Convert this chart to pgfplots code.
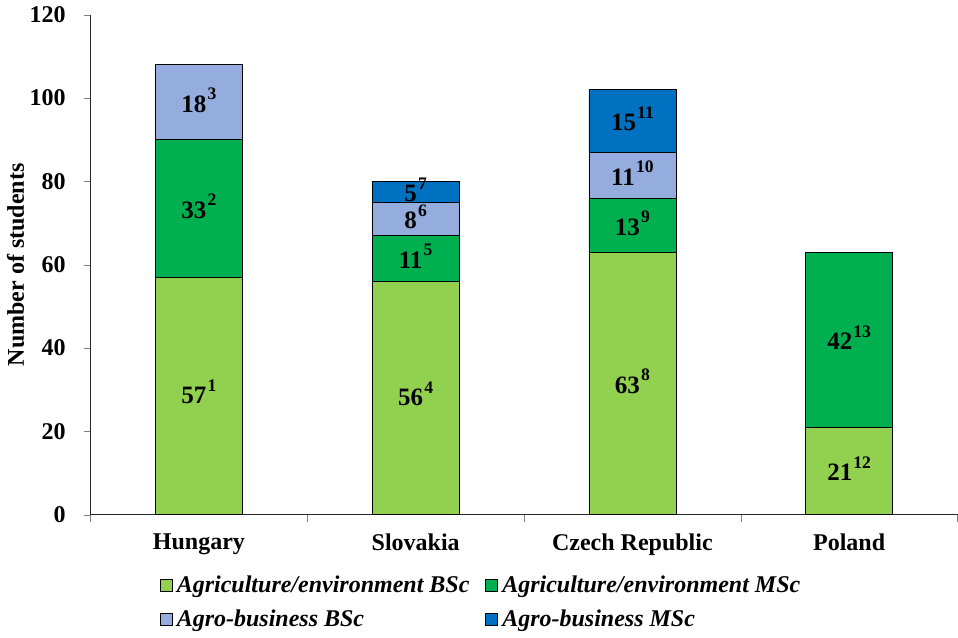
\documentclass[border=0pt]{standalone}
\usepackage{pgfplots}
\pgfplotsset{compat=1.18}
\usepackage{fontspec}
\setmainfont{Liberation Serif}
\definecolor{lgreen}{RGB}{146,208,80}
\definecolor{dgreen}{RGB}{0,176,80}
\definecolor{lblue}{RGB}{149,173,222}
\definecolor{dblue}{RGB}{0,112,192}
\newcommand\sups[1]{\kern0.6pt\raisebox{0.5em}{\fontsize{8.8}{9}\selectfont #1}}
\begin{document}
\begin{tikzpicture}
\pgfplotsset{common/.style={scale only axis, width=433.5pt, height=250pt, xmin=0, xmax=4, ymin=0, ymax=120}}
\begin{axis}[common,
 ybar stacked, bar width=43.5pt,
 axis lines*=left,
 tick align=outside, major tick length=3.5pt,
 xtick={0,1,2,3,4}, x tick label as interval,
 xticklabels={Hungary,Slovakia,Czech Republic,Poland},
 ytick={0,20,...,120},
 /pgf/number format/assume math mode=true,
 ticklabel style={font=\fontsize{12}{14}\selectfont\bfseries},
 yticklabel style={xshift=-5.5pt},
 xticklabel style={yshift=-2.5pt},
 ylabel={Number of students},
 ylabel style={font=\fontsize{12}{14}\selectfont\bfseries, at={(axis description cs:-0.0865,0.5)}, anchor=center, inner sep=3.5pt},
 legend style={at={(0.0727,-0.106)}, anchor=north west, draw=none,
   font=\fontsize{12}{14}\selectfont\bfseries\itshape, legend columns=2,
   row sep=3pt,
   /tikz/every even column/.append style={column sep=6pt}},
 legend cell align=left,
 legend image code/.code={\draw[#1, draw=black, line width=0.4pt] (0pt,-2.7pt) rectangle (6pt,3.3pt);},
 every axis plot/.append style={draw=black, line width=0.4pt},
 axis line style={line width=0.5pt, color=black!85}
]
\addplot[fill=lgreen] coordinates {(0.5,57) (1.5,56) (2.5,63) (3.5,21)};
\addplot[fill=dgreen] coordinates {(0.5,33) (1.5,11) (2.5,13) (3.5,42)};
\addplot[fill=lblue] coordinates {(0.5,18) (1.5,8) (2.5,11) (3.5,0)};
\addplot[fill=dblue] coordinates {(0.5,0) (1.5,5) (2.5,15) (3.5,0)};
\legend{Agriculture/environment BSc, Agriculture/environment MSc, Agro-business BSc, Agro-business MSc}
\end{axis}
\begin{axis}[common, hide axis,
 nodes near coords, point meta=explicit symbolic,
 nodes near coords style={anchor=center, font=\fontsize{12.5}{14}\selectfont\bfseries}]
\addplot[only marks, mark=*, mark size=0pt, draw=none, fill=none] coordinates {
 (0.5,29.5)[57\sups{1}] (0.5,74)[33\sups{2}] (0.5,99.5)[18\sups{3}]
 (1.5,29)[56\sups{4}] (1.5,62)[11\sups{5}] (1.5,71.5)[8\sups{6}] (1.5,78)[5\sups{7}]
 (2.5,32)[63\sups{8}] (2.5,70)[13\sups{9}] (2.5,82)[11\sups{10}] (2.5,95)[15\sups{11}]
 (3.5,11)[21\sups{12}] (3.5,42.5)[42\sups{13}]
};
\end{axis}
\end{tikzpicture}
\end{document}
